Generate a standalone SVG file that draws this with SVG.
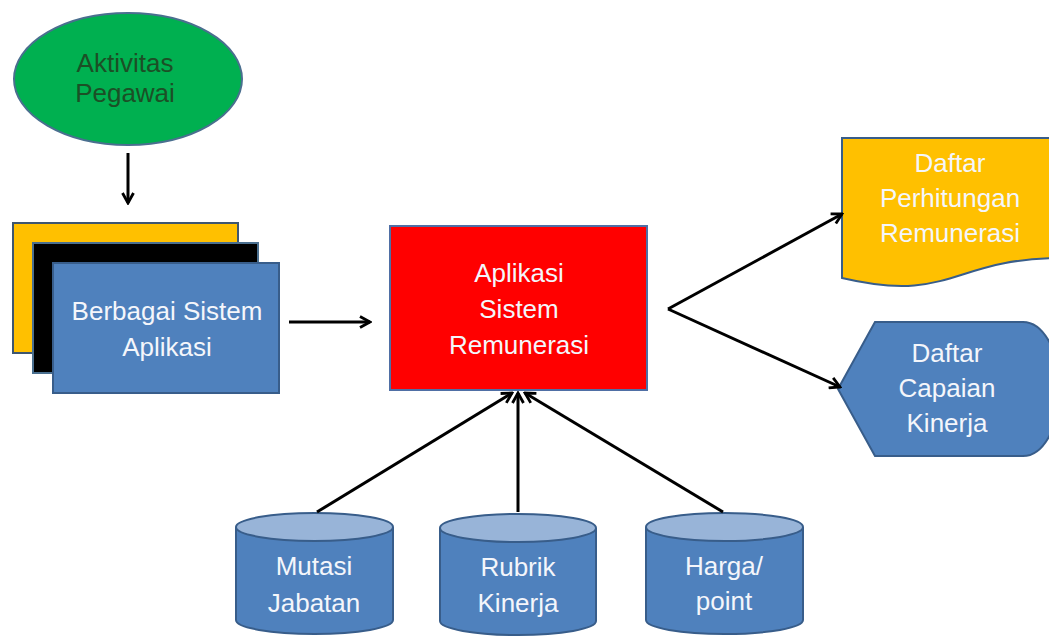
<svg xmlns="http://www.w3.org/2000/svg" width="1049" height="639" viewBox="0 0 1049 639">
  <style>
    .t { font-family: "Liberation Sans", Arial, sans-serif; font-size: 26px; text-anchor: middle; fill: #f4f6fb; }
    .tg { font-family: "Liberation Sans", Arial, sans-serif; font-size: 26px; text-anchor: middle; fill: #1c4f26; }
    .blue { fill: #4f81bd; stroke: #385d8a; stroke-width: 2; }
    .cyltop { fill: #98b4d8; stroke: #385d8a; stroke-width: 2; }
    .conn { fill: none; stroke: #000; stroke-width: 3; marker-end: url(#arr); }
  </style>
  <defs>
    <marker id="arr" markerUnits="userSpaceOnUse" viewBox="0 0 14 14" refX="12" refY="7" markerWidth="14" markerHeight="14" orient="auto">
      <path d="M2,1.5 L12,7 L2,12.5" fill="none" stroke="#000" stroke-width="2.8"/>
    </marker>
  </defs>
  <rect width="1049" height="639" fill="#ffffff"/>

  <g id="aktivitas">
    <ellipse cx="128" cy="79" rx="114" ry="66" fill="#00b050" stroke="#4a6f8f" stroke-width="2"/>
    <text class="tg" x="125" y="72">Aktivitas</text>
    <text class="tg" x="125" y="102">Pegawai</text>
  </g>

  <g id="berbagai">
    <rect x="13" y="223" width="225" height="130" fill="#ffc000" stroke="#3d5670" stroke-width="2"/>
    <rect x="33" y="243" width="225" height="130" fill="#000000" stroke="#4a6f8f" stroke-width="2"/>
    <rect class="blue" x="53" y="263" width="226" height="130"/>
    <text class="t" x="167" y="320">Berbagai Sistem</text>
    <text class="t" x="167" y="356">Aplikasi</text>
  </g>

  <g id="aplikasi">
    <rect x="390" y="226" width="257" height="164" fill="#ff0000" stroke="#4f6fa5" stroke-width="2"/>
    <text class="t" x="519" y="282">Aplikasi</text>
    <text class="t" x="519" y="318">Sistem</text>
    <text class="t" x="519" y="354">Remunerasi</text>
  </g>

  <g id="perhitungan">
    <path d="M842,138 H1062 V258 C952,258 952,304 842,278 Z" fill="#ffc000" stroke="#385d8a" stroke-width="2"/>
    <text class="t" x="950" y="172">Daftar</text>
    <text class="t" x="950" y="207">Perhitungan</text>
    <text class="t" x="950" y="242">Remunerasi</text>
  </g>

  <g id="capaian">
    <path d="M838,389 L875,322 H1023 A37,67 0 0 1 1023,456 H875 Z" class="blue"/>
    <text class="t" x="947" y="362">Daftar</text>
    <text class="t" x="947" y="397">Capaian</text>
    <text class="t" x="947" y="432">Kinerja</text>
  </g>

  <g id="mutasi">
    <path class="blue" d="M236,527 V620 A78.5,14 0 0 0 393,620 V527"/>
    <ellipse class="cyltop" cx="314.5" cy="527" rx="78.5" ry="14"/>
    <text class="t" x="314" y="575">Mutasi</text>
    <text class="t" x="314" y="612">Jabatan</text>
  </g>

  <g id="rubrik">
    <path class="blue" d="M440,528 V621 A78,14 0 0 0 596,621 V528"/>
    <ellipse class="cyltop" cx="518" cy="528" rx="78" ry="14"/>
    <text class="t" x="518" y="576">Rubrik</text>
    <text class="t" x="518" y="612">Kinerja</text>
  </g>

  <g id="harga">
    <path class="blue" d="M646,527 V620 A78.5,14 0 0 0 803,620 V527"/>
    <ellipse class="cyltop" cx="724.5" cy="527" rx="78.5" ry="14"/>
    <text class="t" x="724" y="575">Harga/</text>
    <text class="t" x="724" y="610">point</text>
  </g>

  <g id="connectors">
    <path class="conn" d="M128,153 V203"/>
    <path class="conn" d="M289,322 H370"/>
    <path class="conn" d="M668,309 L842,214"/>
    <path class="conn" d="M668,309 L840,387"/>
    <path class="conn" d="M317,512 L512,393"/>
    <path class="conn" d="M518,512 V393"/>
    <path class="conn" d="M723,512 L525,393"/>
  </g>
</svg>
